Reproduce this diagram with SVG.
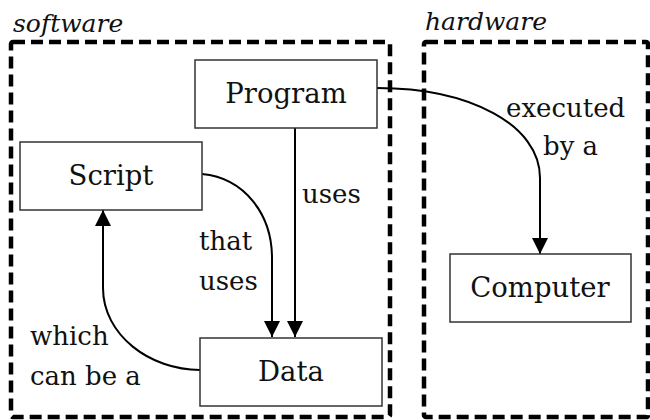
<svg xmlns="http://www.w3.org/2000/svg" width="650" height="420" viewBox="0 0 650 420">
  <style>
    .node rect { fill: #ffffff; stroke: #333333; stroke-width: 1.5; }
    .label { font-family: "DejaVu Serif", "Liberation Serif", serif; font-size: 27.5px; fill: #111111; }
    .edgelabel { font-family: "DejaVu Serif", "Liberation Serif", serif; font-size: 26px; fill: #111111; }
    .cluster { fill: none; stroke: #000000; stroke-width: 4.5; stroke-dasharray: 12 6; }
    .ctitle { font-family: "DejaVu Serif", "Liberation Serif", serif; font-style: italic; font-size: 25px; fill: #111111; }
    .edge { fill: none; stroke: #000000; stroke-width: 2; }
  </style>
  <defs>
    <marker id="arrow" markerUnits="userSpaceOnUse" markerWidth="16" markerHeight="16" viewBox="0 0 16 16" refX="16" refY="8" orient="auto">
      <path d="M0,0 L16,8 L0,16 Z" fill="#000000"/>
    </marker>
  </defs>
  <rect width="650" height="420" fill="#ffffff"/>
  <g id="cluster-software">
    <rect class="cluster" x="11" y="42" width="379" height="375" rx="2"/>
    <text class="ctitle" x="13" y="32">software</text>
  </g>
  <g id="cluster-hardware">
    <rect class="cluster" x="424" y="42" width="224" height="375" rx="2"/>
    <text class="ctitle" x="425" y="30">hardware</text>
  </g>
  <g id="connectors">
    <path class="edge" d="M377,88 C470,88 540,125 540,178 L540,254" marker-end="url(#arrow)"/>
    <path class="edge" d="M295,128 L295,337" marker-end="url(#arrow)"/>
    <path class="edge" d="M202,174 C245,178 272,215 272,258 L272,337" marker-end="url(#arrow)"/>
    <path class="edge" d="M200,370 C150,370 103,335 103,288 L103,210" marker-end="url(#arrow)"/>
    <text class="edgelabel" x="506" y="117">executed</text>
    <text class="edgelabel" x="543" y="155">by a</text>
    <text class="edgelabel" x="302" y="203">uses</text>
    <text class="edgelabel" x="199" y="250">that</text>
    <text class="edgelabel" x="199" y="290">uses</text>
    <text class="edgelabel" x="30" y="345">which</text>
    <text class="edgelabel" x="30" y="385">can be a</text>
  </g>
  <g id="node-program" class="node">
    <rect x="195" y="60" width="182" height="68"/>
    <text class="label" x="286" y="103" text-anchor="middle">Program</text>
  </g>
  <g id="node-script" class="node">
    <rect x="20" y="142" width="182" height="68"/>
    <text class="label" x="111" y="185" text-anchor="middle">Script</text>
  </g>
  <g id="node-data" class="node">
    <rect x="200" y="338" width="182" height="68"/>
    <text class="label" x="291" y="381" text-anchor="middle">Data</text>
  </g>
  <g id="node-computer" class="node">
    <rect x="450" y="254" width="181" height="68"/>
    <text class="label" x="540" y="297" text-anchor="middle">Computer</text>
  </g>
</svg>
